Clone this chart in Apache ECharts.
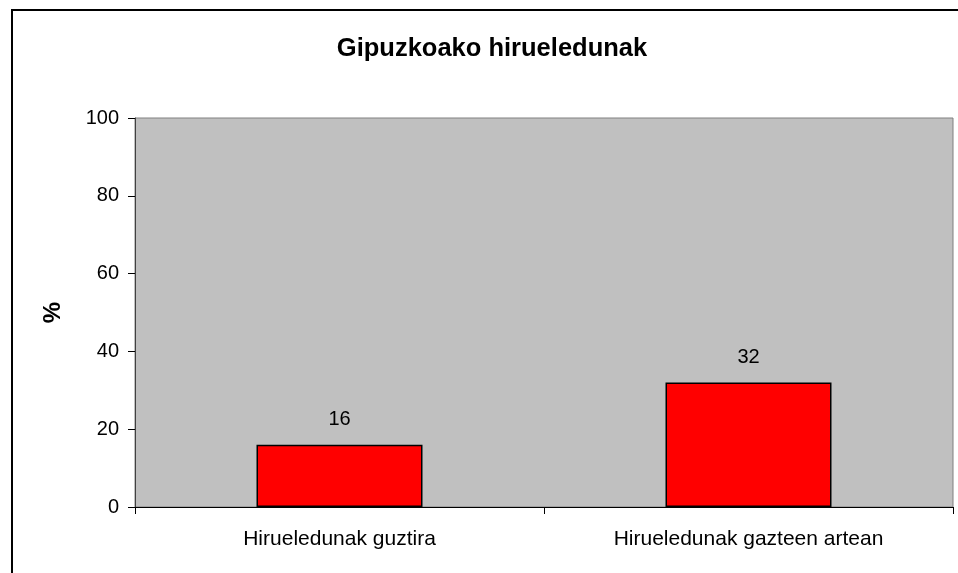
<!DOCTYPE html>
<html>
<head>
<meta charset="utf-8">
<script src="https://cdn.jsdelivr.net/npm/echarts@6/dist/echarts.min.js"></script>
<style>
  html, body { margin: 0; padding: 0; background: #fff; }
  #chart { width: 958px; height: 573px; }
</style>
</head>
<body>
<div id="chart"></div>
<script>
// datuak
var categories = ['Hirueledunak guztira', 'Hirueledunak gazteen artean']
var values = [16, 32]
var yTicks = [0, 20, 40, 60, 80, 100]

var font = '"Liberation Sans", Arial, sans-serif'
var chart = echarts.init(document.getElementById('chart'))

chart.setOption({
  animation: false,
  backgroundColor: '#fff',
  textStyle: { fontFamily: font },
  title: {
    text: 'Gipuzkoako hirueledunak',
    left: 487,
    top: 31,
    textAlign: 'center',
    textStyle: { fontFamily: font, fontSize: 25.5, fontWeight: 'bold', color: '#000' }
  },
  // kanpoko markoa (eskuin eta behealdea moztuta)
  graphic: [{
    type: 'rect',
    shape: { x: 12, y: 10, width: 1000, height: 600 },
    style: { fill: 'none', stroke: '#000', lineWidth: 2 },
    silent: true
  }],
  grid: {
    left: 135,
    right: 5,
    top: 118,
    bottom: 66,
    show: true,
    backgroundColor: '#c0c0c0',
    borderColor: '#808080',
    borderWidth: 1
  },
  xAxis: {
    type: 'category',
    data: categories,
    axisLine: { lineStyle: { color: '#000', width: 1 } },
    axisTick: { show: true, length: 7, alignWithLabel: false, lineStyle: { color: '#000' } },
    axisLabel: { color: '#000', fontSize: 21, margin: 22, fontFamily: font }
  },
  yAxis: {
    type: 'value',
    min: yTicks[0],
    max: yTicks[yTicks.length - 1],
    interval: 20,
    name: '%',
    nameLocation: 'middle',
    nameGap: 70,
    nameRotate: 90,
    nameTextStyle: { color: '#000', fontSize: 24, fontWeight: 'bold', fontFamily: font },
    axisLine: { show: true, lineStyle: { color: '#404040', width: 1 } },
    axisTick: { show: true, length: 7, lineStyle: { color: '#000' } },
    axisLabel: { color: '#000', fontSize: 20, margin: 16, fontFamily: font },
    splitLine: { show: false }
  },
  series: [{
    type: 'bar',
    data: values,
    barWidth: 166,
    itemStyle: { color: '#ff0000', borderColor: '#000', borderWidth: 1.5 },
    label: {
      show: true,
      position: 'top',
      distance: 15,
      color: '#000',
      fontSize: 20,
      fontFamily: font
    }
  }]
})
</script>
</body>
</html>
